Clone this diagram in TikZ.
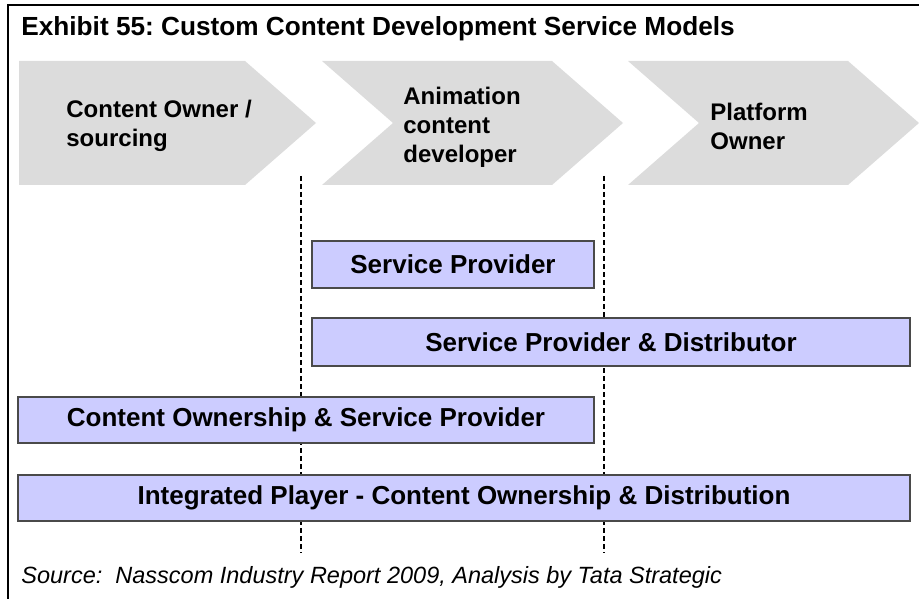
\documentclass[tikz,border=0pt]{standalone}
\usepackage{fontspec}
\setmainfont{Liberation Sans}
\usetikzlibrary{positioning}
\frenchspacing

\definecolor{chevgray}{HTML}{DCDCDC}
\definecolor{modelblue}{HTML}{CCCCFF}
\definecolor{modeledge}{HTML}{4A4A4A}

\begin{document}
\begin{tikzpicture}[x=1pt, y=-1pt, thick,
    chevron/.style={fill=chevgray, draw=none},
    stagetext/.style={anchor=west, align=left, inner sep=0pt,
        font=\fontsize{24}{29}\selectfont\bfseries},
    modelbox/.style={fill=modelblue, draw=modeledge, line width=1.5pt,
        inner sep=0pt, font=\fontsize{26}{30}\selectfont\bfseries},
    divider/.style={line width=1.2pt, dash pattern=on 5pt off 3pt}]
    \useasboundingbox (0,0) rectangle (919,599);

    % 外框: 左边和上边
    \draw[line width=2pt] (8,599) -- (8,5) -- (919,5);

    % 标题
    \node[anchor=base west, inner sep=0pt, font=\fontsize{26.2}{30}\selectfont\bfseries]
        (title) at (21,36) {Exhibit 55: Custom Content Development Service Models};

    % 三个箭头形阶段
    \fill[chevron] (19,61) -- (245,61) -- (316,123) -- (245,185) -- (19,185) -- cycle;
    \fill[chevron] (322,61) -- (552,61) -- (623,123) -- (552,185) -- (322,185) -- (393,123) -- cycle;
    \fill[chevron] (628,61) -- (848,61) -- (919,123) -- (848,185) -- (628,185) -- (699,123) -- cycle;

    \node[stagetext] (owner) at (66,126) {Content Owner /\\sourcing};
    \node[stagetext] (animator) at (403,127) {Animation\\content\\developer};
    \node[stagetext] (platform) at (710,126) {Platform\\Owner};

    % 虚线分隔 (被方框遮住)
    \coordinate (d1top) at (301,176);
    \coordinate (d1bot) at (301,553);
    \coordinate (d2top) at (604,176);
    \coordinate (d2bot) at (604,553);
    \draw[divider] (d1top) -- (d1bot);
    \draw[divider] (d2top) -- (d2bot);

    % 服务模式方框
    \node[modelbox, minimum width=282pt, minimum height=47pt] (sp) at (453,264.5) {Service Provider};
    \node[modelbox, minimum width=598pt, minimum height=48pt] (spd) at (611,342) {Service Provider \& Distributor};
    \node[modelbox, minimum width=576pt, minimum height=46pt] (cosp) at (306,420) {Content Ownership \& Service Provider};
    \node[modelbox, minimum width=892pt, minimum height=46pt] (ip) at (464,498) {Integrated Player - Content Ownership \& Distribution};

    % 来源
    \node[anchor=base west, inner sep=0pt, font=\fontsize{23.5}{27}\selectfont\itshape]
        (source) at (21,583) {Source:\ \ Nasscom Industry Report 2009, Analysis by Tata Strategic};
\end{tikzpicture}
\end{document}
